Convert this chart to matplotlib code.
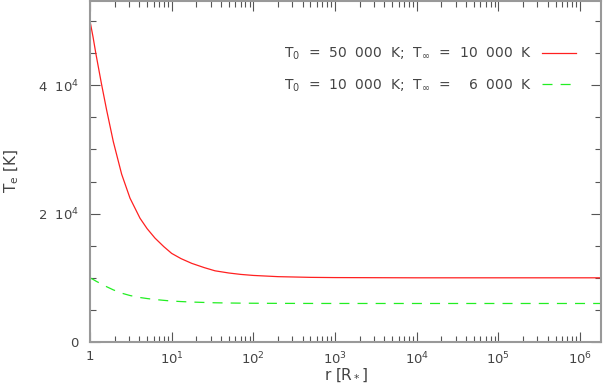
import numpy as np
import matplotlib
matplotlib.use("Agg")
import matplotlib.pyplot as plt
from matplotlib.ticker import FixedLocator, NullFormatter, LogLocator

plt.rcParams['font.family'] = ['DejaVu Sans']
plt.rcParams['mathtext.default'] = 'regular'

# radius grid (in R_*) and electron temperatures
r = [1, 1.09, 1.18, 1.38, 1.6, 1.93, 2.44, 3.09, 4.09, 5, 6.25, 8, 10, 13, 17.6, 25,
     33.9, 50, 70, 100, 200, 500, 1e3, 1e4, 1e5, 1e6, 1.8e6]
T_hot = [50000, 47500, 44920, 40250, 36100, 31200, 26140, 22400, 19290, 17660, 16180,
         14860, 13800, 12990, 12250, 11590, 11090, 10750, 10530, 10370, 10180,
         10070, 10035, 10000, 10000, 10000, 10000]
T_cool = [10000, 9750, 9490, 9030, 8610, 8120, 7610, 7240, 6930, 6770, 6620,
          6490, 6380, 6300, 6225, 6160, 6110, 6075, 6053, 6037, 6018,
          6007, 6003, 6000, 6000, 6000, 6000]

lab_hot = 'T$_0$  =  50  000  K;  T$_\\infty$  =  10  000  K'
lab_cool = 'T$_0$  =  10  000  K;  T$_\\infty$  =    6  000  K'

xticks = [1, 1e1, 1e2, 1e3, 1e4, 1e5, 1e6]
xticklabels = ['1', '10$^1$', '10$^2$', '10$^3$', '10$^4$', '10$^5$', '10$^6$']
yticks = [0, 2e4, 4e4]
yticklabels = ['0', '2  10$^4$', '4  10$^4$']

txt = '#444444'

fig = plt.figure(figsize=(6.03, 3.85), dpi=100)
ax = fig.add_axes([90/603, 1 - 342/385, 511/603, 341.5/385])

ax.plot(r, T_hot, color='#ff2020', lw=0.9, label=lab_hot)
ax.plot(r, T_cool, color='#22ee22', lw=0.9, ls=(0, (8, 6.5)), label=lab_cool)

ax.set_xscale('log')
ax.set_xlim(1, 1.8e6)
ax.set_ylim(0, 53200)

ax.set_xticks(xticks)
ax.set_xticklabels(xticklabels)
ax.xaxis.set_minor_locator(LogLocator(base=10, subs=np.arange(2, 10), numticks=20))
ax.xaxis.set_minor_formatter(NullFormatter())
ax.set_yticks(yticks)
ax.set_yticklabels(yticklabels)
ax.yaxis.set_minor_locator(FixedLocator(np.arange(0, 53000, 5000)))

ax.tick_params(which='both', direction='in', top=True, right=True,
               color='#555555', labelcolor=txt, labelsize=9.5)
ax.tick_params(which='major', length=7, width=0.8)
ax.tick_params(axis='y', which='major', pad=8)
ax.tick_params(axis='x', which='major', pad=6)
ax.tick_params(which='minor', length=4, width=0.8)
for s in ax.spines.values():
    s.set_color('#999999')
    s.set_linewidth(1.5)

ax.set_xlabel('r [R$_*$]', color=txt, fontsize=11)
ax.set_ylabel('T$_e$ [K]', color=txt, fontsize=11)
ax.xaxis.set_label_coords(0.5, -0.072)
ax.yaxis.set_label_coords(-0.135, 0.5)

leg = ax.legend(loc='upper right', bbox_to_anchor=(0.975, 0.905), frameon=False,
                markerfirst=False, fontsize=10, handlelength=2.4,
                labelspacing=1.1, handletextpad=0.7)
for t in leg.get_texts():
    t.set_color(txt)

plt.savefig('out.png', dpi=100)
